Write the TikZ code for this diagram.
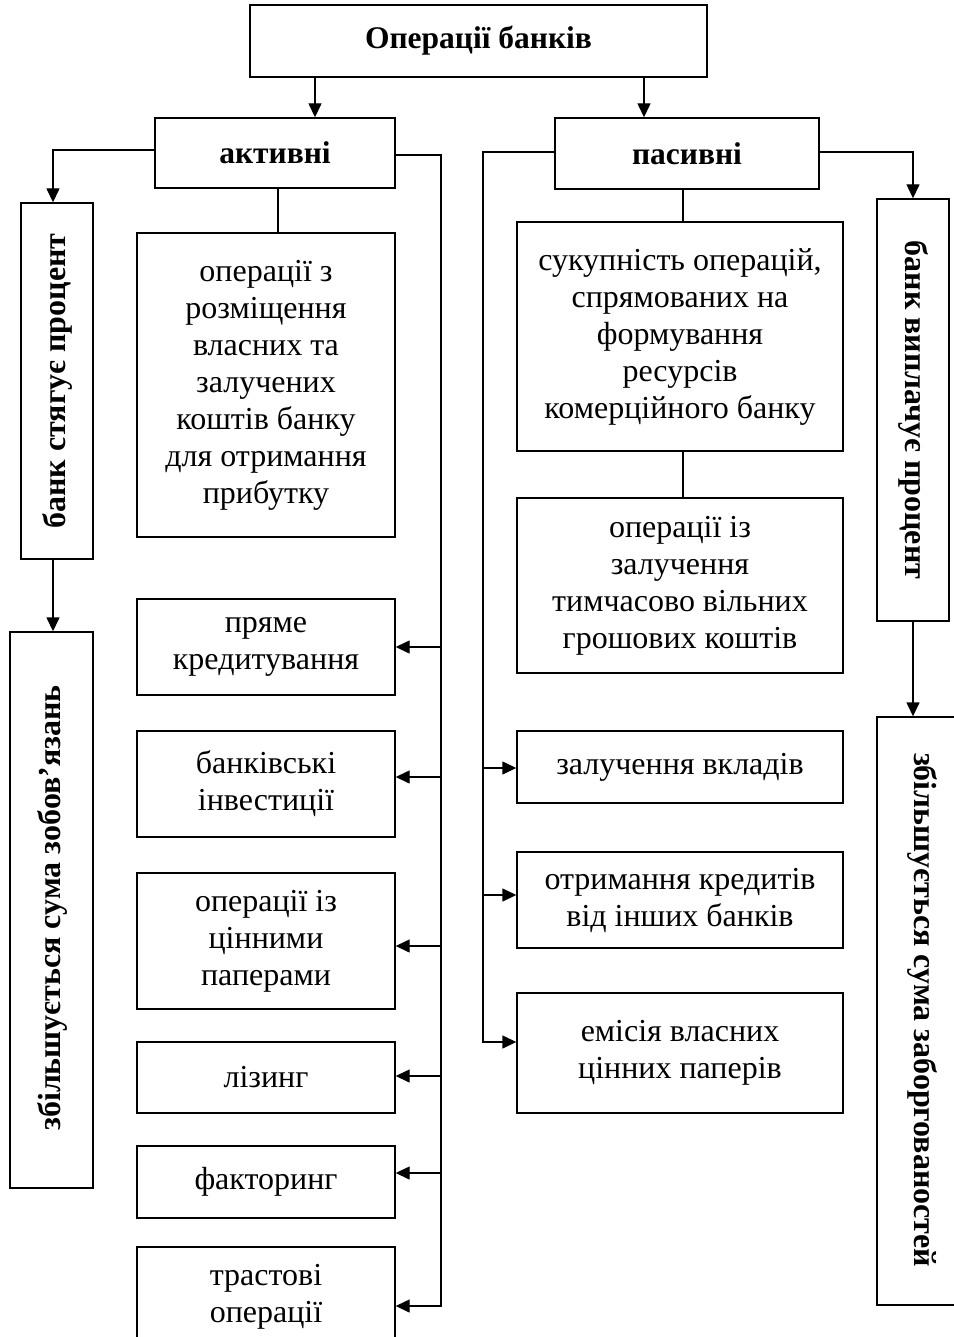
\documentclass[tikz,border=0pt]{standalone}
\usepackage{fontspec}
\setmainfont{Liberation Serif}
\usetikzlibrary{arrows.meta}
\tikzset{
  box/.style={draw, line width=1.4pt, rectangle, align=center, inner sep=2pt,
    font=\fontsize{32}{37}\selectfont},
  bbox/.style={box, font=\fontsize{31.5}{37}\selectfont\bfseries},
  vtext/.style={font=\fontsize{32}{37}\selectfont\bfseries, inner sep=0pt},
  conn/.style={line width=1.4pt},
  arr/.style={conn, -{Triangle[length=14pt,width=13pt]}},
}
\begin{document}
\begin{tikzpicture}[x=1pt,y=-1pt]
\useasboundingbox (0,0) rectangle (953,1337);
% main boxes
\node[bbox, minimum width=457pt, minimum height=72pt] (top) at (478.5,41) {Операції банків};
\node[bbox, minimum width=240pt, minimum height=70pt] (act) at (275,153) {активні};
\node[bbox, minimum width=264pt, minimum height=71pt] (pas) at (687,153.5) {пасивні};
% left vertical boxes
\node[box, minimum width=72pt, minimum height=356pt] (lb1) at (57,381) {};
\node[vtext, rotate=90] (lb1t) at (57,381) {банк стягує процент};
\node[box, minimum width=83pt, minimum height=556pt] (lb2) at (51.5,910) {};
\node[vtext, rotate=90] (lb2t) at (52,908) {збільшується сума зобов’язань};
% right vertical boxes
\node[box, minimum width=72pt, minimum height=422pt] (rb1) at (913,410) {};
\node[vtext, rotate=-90] (rb1t) at (913,410) {банк виплачує процент};
\node[box, minimum width=92pt, minimum height=588pt] (rb2) at (923,1011) {};
\node[vtext, rotate=-90] (rb2t) at (922,1010) {збільшується сума заборгованостей};
% active column
\node[box, minimum width=258pt, minimum height=304pt] (ops) at (266,385) {операції з\\розміщення\\власних та\\залучених\\коштів банку\\для отримання\\прибутку};
\node[box, minimum width=258pt, minimum height=96pt] (a1) at (266,647) {пряме\\кредитування};
\node[box, minimum width=258pt, minimum height=106pt] (a2) at (266,784) {банківські\\інвестиції};
\node[box, minimum width=258pt, minimum height=136pt] (a3) at (266,941) {операції із\\цінними\\паперами};
\node[box, minimum width=258pt, minimum height=71pt] (a4) at (266,1077.5) {лізинг};
\node[box, minimum width=258pt, minimum height=72pt] (a5) at (266,1182) {факторинг};
\node[box, minimum width=258pt, minimum height=100pt] (a6) at (266,1297) {трастові\\операції};
% passive column
\node[box, minimum width=326pt, minimum height=229pt] (psum) at (680,336.5) {сукупність операцій,\\спрямованих на\\формування\\ресурсів\\комерційного банку};
\node[box, minimum width=326pt, minimum height=175pt] (pop) at (680,585.5) {операції із\\залучення\\тимчасово вільних\\грошових коштів};
\node[box, minimum width=326pt, minimum height=72pt] (p1) at (680,767) {залучення вкладів};
\node[box, minimum width=326pt, minimum height=96pt] (p2) at (680,900) {отримання кредитів\\від інших банків};
\node[box, minimum width=326pt, minimum height=120pt] (p3) at (680,1053) {емісія власних\\цінних паперів};
% connectors from top
\draw[arr] (315,0 |- top.south) -- (315,0 |- act.north);
\draw[arr] (644,0 |- top.south) -- (644,0 |- pas.north);
% left side
\draw[arr] (act.west |- 0,150) -| (53,0 |- lb1.north);
\draw[arr] (53,0 |- lb1.south) -- (53,0 |- lb2.north);
\draw[conn] (278,0 |- act.south) -- (278,0 |- ops.north);
% active bus
\draw[arr] (act.east |- 0,155) -- (441,155) -- (441,1306) -- (a6.east |- 0,1306);
\foreach \n/\yy in {a1/647, a2/777, a3/946, a4/1076, a5/1173}
  \draw[arr] (441,\yy) -- (\n.east |- 0,\yy);
% passive bus
\draw[arr] (pas.west |- 0,152) -- (483,152) -- (483,1042) -- (p3.west |- 0,1042);
\foreach \n/\yy in {p1/768, p2/895}
  \draw[arr] (483,\yy) -- (\n.west |- 0,\yy);
\draw[conn] (683,0 |- pas.south) -- (683,0 |- psum.north);
\draw[conn] (683,0 |- psum.south) -- (683,0 |- pop.north);
% right side
\draw[arr] (pas.east |- 0,152) -| (913,0 |- rb1.north);
\draw[arr] (913,0 |- rb1.south) -- (913,0 |- rb2.north);
\end{tikzpicture}
\end{document}
